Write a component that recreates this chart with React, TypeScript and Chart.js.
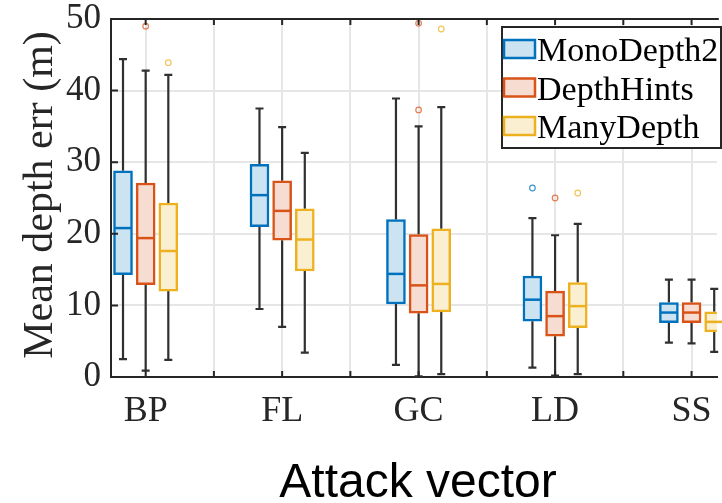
import React, { useEffect, useRef } from 'react';
import { Chart, registerables } from 'chart.js';

Chart.register(...registerables);

// ---------------- data ----------------
const categories = ['BP', 'FL', 'GC', 'LD', 'SS'];
const seriesNames = ['MonoDepth2', 'DepthHints', 'ManyDepth'];

const monoMin = [2.5, 9.5, 1.7, 1.3, 4.8];
const monoQ1 = [14.3, 21.0, 10.2, 7.8, 7.6];
const monoMed = [20.8, 25.4, 14.4, 10.8, 9.0];
const monoQ3 = [28.8, 29.7, 22.0, 14.1, 10.4];
const monoMax = [44.4, 37.5, 38.9, 22.2, 13.6];
const monoOut = [[], [], [], [26.4], []];

const hintsMin = [0.9, 7.0, 0.1, 0.2, 4.7];
const hintsQ1 = [12.9, 19.1, 8.9, 5.7, 7.6];
const hintsMed = [19.4, 23.2, 12.8, 8.5, 9.0];
const hintsQ3 = [27.1, 27.4, 19.9, 12.0, 10.4];
const hintsMax = [42.8, 34.9, 35.0, 19.8, 13.6];
const hintsOut = [[49.0], [], [49.4, 37.3], [25.0], []];

const manyMin = [2.4, 3.4, 0.4, 0.4, 3.5];
const manyQ1 = [12.0, 14.8, 9.1, 6.9, 6.3];
const manyMed = [17.6, 19.2, 13.0, 9.9, 7.7];
const manyQ3 = [24.3, 23.5, 20.7, 13.2, 9.1];
const manyMax = [42.2, 31.3, 37.7, 21.4, 12.3];
const manyOut = [[43.9], [], [48.6], [25.7], []];

const yTickValues = [0, 10, 20, 30, 40, 50];
const xTickValues = [1, 1.5, 2, 2.5, 3, 3.5, 4, 4.5, 5, 5.5];

// ---------------- styles ----------------
const seriesColors = ['#0072BD', '#D95319', '#EDB120'];
const seriesFills = ['rgb(204,227,242)', 'rgb(247,221,209)', 'rgb(251,239,210)'];
const outlierColors = ['rgba(0,114,189,0.75)', 'rgba(217,83,25,0.75)', 'rgba(237,177,32,0.75)'];
const groupOffsets = [-0.166, 0, 0.166];
const axisColor = '#262626';
const whiskerColor = '#303030';
const serif = '"Liberation Serif", "Times New Roman", serif';

export default function App() {
  const ref = useRef<HTMLCanvasElement>(null);

  useEffect(() => {
    const series = [
      { min: monoMin, q1: monoQ1, med: monoMed, q3: monoQ3, max: monoMax, out: monoOut },
      { min: hintsMin, q1: hintsQ1, med: hintsMed, q3: hintsQ3, max: hintsMax, out: hintsOut },
      { min: manyMin, q1: manyQ1, med: manyMed, q3: manyQ3, max: manyMax, out: manyOut },
    ];
    const xPos = (c: number, s: number) => c + 1 + groupOffsets[s];

    const datasets: any[] = [];
    series.forEach((s, i) => {
      datasets.push({
        type: 'bar',
        label: seriesNames[i],
        data: categories.map((_, j) => ({ x: xPos(j, i), y: [s.q1[j], s.q3[j]] })),
        backgroundColor: seriesFills[i],
        borderColor: seriesColors[i],
        borderWidth: 2.5,
        borderSkipped: false,
        barThickness: 19,
        grouped: false,
      });
    });
    series.forEach((s, i) => {
      const pts: any[] = [];
      s.out.forEach((vals, j) => vals.forEach((v) => pts.push({ x: xPos(j, i), y: v })));
      datasets.push({
        type: 'scatter',
        label: seriesNames[i] + ' outliers',
        data: pts,
        pointStyle: 'circle',
        pointRadius: 2.8,
        pointBorderWidth: 1.2,
        pointBorderColor: outlierColors[i],
        pointBackgroundColor: 'rgba(0,0,0,0)',
        clip: false,
      });
    });

    const boxPlugin = {
      id: 'boxExtras',
      beforeDatasetsDraw(chart: any) {
        const { ctx, scales } = chart;
        const xs = scales.x, ys = scales.y;
        ctx.save();
        ctx.strokeStyle = whiskerColor;
        ctx.lineWidth = 2.2;
        series.forEach((s, i) => {
          categories.forEach((_, j) => {
            const x = xs.getPixelForValue(xPos(j, i));
            const yMax = ys.getPixelForValue(s.max[j]);
            const yQ3 = ys.getPixelForValue(s.q3[j]);
            const yQ1 = ys.getPixelForValue(s.q1[j]);
            const yMin = ys.getPixelForValue(s.min[j]);
            ctx.beginPath();
            ctx.moveTo(x, yQ3);
            ctx.lineTo(x, yMax);
            ctx.moveTo(x - 4, yMax);
            ctx.lineTo(x + 4, yMax);
            ctx.moveTo(x, yQ1);
            ctx.lineTo(x, yMin);
            ctx.moveTo(x - 4, yMin);
            ctx.lineTo(x + 4, yMin);
            ctx.stroke();
          });
        });
        ctx.restore();
      },
      afterDatasetsDraw(chart: any) {
        const { ctx, scales, chartArea } = chart;
        const xs = scales.x, ys = scales.y;
        ctx.save();
        // medians
        ctx.lineWidth = 2.5;
        series.forEach((s, i) => {
          ctx.strokeStyle = seriesColors[i];
          categories.forEach((_, j) => {
            const x = xs.getPixelForValue(xPos(j, i));
            const y = ys.getPixelForValue(s.med[j]);
            ctx.beginPath();
            ctx.moveTo(x - 9, y);
            ctx.lineTo(x + 9, y);
            ctx.stroke();
          });
        });
        // top axis line + inward ticks
        ctx.strokeStyle = axisColor;
        ctx.lineWidth = 2;
        ctx.beginPath();
        ctx.moveTo(chartArea.left - 1, chartArea.top);
        ctx.lineTo(chartArea.right + 2, chartArea.top);
        xTickValues.forEach((v) => {
          const x = xs.getPixelForValue(v);
          ctx.moveTo(x, chartArea.bottom);
          ctx.lineTo(x, chartArea.bottom - 6);
          ctx.moveTo(x, chartArea.top);
          ctx.lineTo(x, chartArea.top + 6);
        });
        yTickValues.forEach((v) => {
          const y = ys.getPixelForValue(v);
          ctx.moveTo(chartArea.left, y);
          ctx.lineTo(chartArea.left + 7, y);
        });
        ctx.stroke();

        // legend
        const lx = 502, ly = 27, lw = 219, lh = 121;
        ctx.fillStyle = '#ffffff';
        ctx.fillRect(lx, ly, lw, lh);
        ctx.strokeStyle = axisColor;
        ctx.lineWidth = 2;
        ctx.strokeRect(lx, ly, lw, lh);
        ctx.font = '34px ' + serif;
        ctx.textAlign = 'left';
        ctx.textBaseline = 'alphabetic';
        seriesNames.forEach((name, i) => {
          const ry = 40 + i * 38.5;
          ctx.fillStyle = seriesFills[i];
          ctx.fillRect(504, ry, 31, 18);
          ctx.strokeStyle = seriesColors[i];
          ctx.lineWidth = 2.5;
          ctx.strokeRect(504, ry, 31, 18);
          ctx.fillStyle = '#000000';
          ctx.fillText(name, 537, ry + 21);
        });

        // axis titles
        ctx.fillStyle = axisColor;
        ctx.font = '42px ' + serif;
        ctx.textAlign = 'center';
        ctx.textBaseline = 'alphabetic';
        ctx.save();
        ctx.translate(52, 195);
        ctx.rotate(-Math.PI / 2);
        ctx.fillText('Mean depth err (m)', 0, 0);
        ctx.restore();

        ctx.fillStyle = '#000000';
        ctx.font = '48px "Liberation Sans", Arial, sans-serif';
        ctx.fillText('Attack vector', 418, 497);
        ctx.restore();
      },
    };

    const chart = new Chart(ref.current as HTMLCanvasElement, {
      type: 'bar',
      data: { datasets },
      options: {
        animation: false,
        responsive: false,
        devicePixelRatio: 1,
        layout: { padding: { top: 19, left: 0, right: 0, bottom: 0 } },
        plugins: { legend: { display: false }, tooltip: { enabled: false }, title: { display: false } },
        scales: {
          x: {
            type: 'linear',
            min: 0.746,
            max: 5.185,
            offset: false,
            grid: { offset: false, color: '#e6e6e6', lineWidth: 2, drawTicks: false },
            border: { display: true, color: axisColor, width: 2 },
            afterBuildTicks: (scale: any) => {
              scale.ticks = xTickValues.filter((v) => v <= 5).map((v) => ({ value: v }));
            },
            afterFit: (scale: any) => {
              scale.height = 126;
              scale.paddingLeft = 0;
              scale.paddingRight = 0;
            },
            ticks: {
              autoSkip: false,
              maxRotation: 0,
              padding: 17,
              color: axisColor,
              font: { family: serif, size: 36, lineHeight: 1 },
              callback: (v: any) => (Number.isInteger(v) ? categories[v - 1] : ''),
            },
          },
          y: {
            type: 'linear',
            min: 0,
            max: 50,
            grid: { color: '#e6e6e6', lineWidth: 2, drawTicks: false },
            border: { display: true, color: axisColor, width: 2 },
            afterFit: (scale: any) => {
              scale.width = 111;
              scale.paddingTop = 0;
              scale.paddingBottom = 0;
            },
            ticks: {
              stepSize: 10,
              padding: 10,
              color: axisColor,
              font: { family: serif, size: 35, lineHeight: 1 },
            },
          },
        },
      },
      plugins: [boxPlugin],
    } as any);

    return () => chart.destroy();
  }, []);

  return (
    <div style={{ position: 'fixed', left: 0, top: 0, width: 722, height: 503, background: '#ffffff' }}>
      <canvas ref={ref} width={722} height={503} style={{ display: 'block', width: 722, height: 503 }} />
    </div>
  );
}
